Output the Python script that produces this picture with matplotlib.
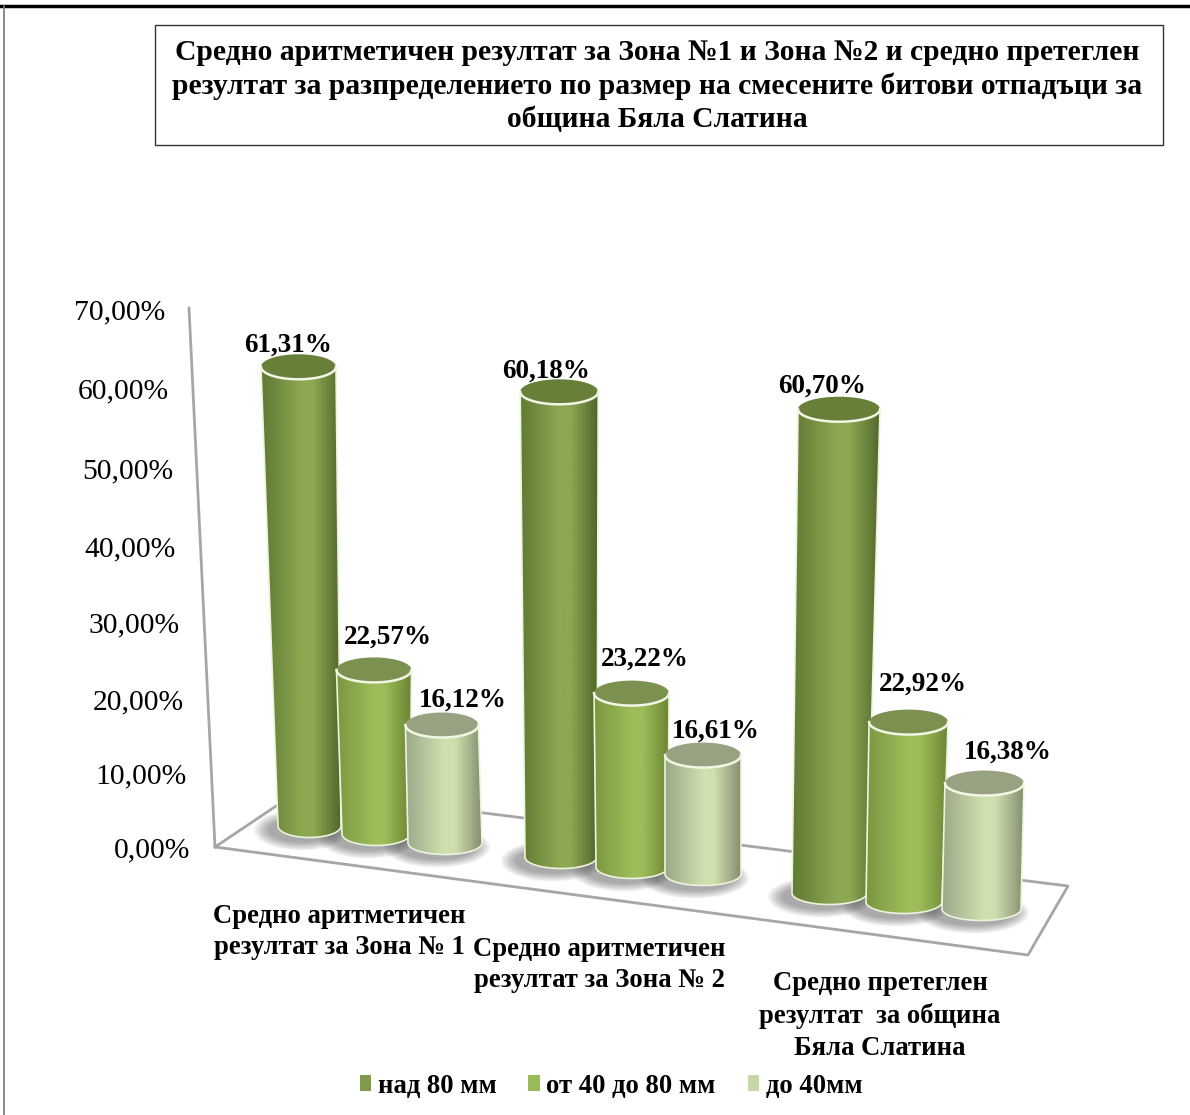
import numpy as np
import matplotlib.pyplot as plt
from matplotlib.colors import LinearSegmentedColormap
from matplotlib.patches import Ellipse, PathPatch, Patch, Rectangle
from matplotlib.path import Path

plt.rcParams['font.family'] = ['Liberation Serif', 'DejaVu Serif']

title = ("Средно аритметичен резултат за Зона №1 и Зона №2 и средно претеглен\n"
         "резултат за разпределението по размер на смесените битови отпадъци за\n"
         "община Бяла Слатина")
categories = ["Средно аритметичен\nрезултат за Зона № 1",
              "Средно аритметичен\nрезултат за Зона № 2",
              "Средно претеглен\nрезултат  за община\nБяла Слатина"]
series_names = ["над 80 мм", "от 40 до 80 мм", "до 40мм"]
over_80 = [61.31, 60.18, 60.70]
from_40_to_80 = [22.57, 23.22, 22.92]
under_40 = [16.12, 16.61, 16.38]
tick_values = [0, 10, 20, 30, 40, 50, 60, 70]

# ---- the fake 3d layout, in pixels of the picture ----
base_cx = [[309.5, 376, 445], [561, 632, 703], [829.5, 904, 981.5]]
base_y = [[826, 834, 843], [857, 867, 874], [893, 902, 909]]
px_per_pct = [[7.49, 7.27, 7.32], [7.73, 7.49, 7.16], [7.97, 7.85, 7.69]]
lean_per_pct = [[-0.18, -0.09, -0.19], [-0.03, -0.02, 0.0], [0.157, 0.2, 0.18]]
base_half = [[31.5, 34, 37], [36, 36, 38], [37.5, 38, 39.5]]
top_half = [[37.5, 37.5, 36.5], [39, 37.5, 38], [41, 39.5, 39.5]]
tick_y = [850, 776, 702, 625, 549, 471, 391, 312]
tick_right = [190, 187, 184, 180, 176, 173, 169, 165]
label_pos = [[(288, 345), (388, 637), (463, 700)],
             [(546, 371), (645, 659), (716, 731)],
             [(822, 386), (923, 684), (1008, 752)]]
category_pos = [(339, 932), (599, 965), (880, 1016)]

body_edge_l = ["#5F7A33", "#7A9740", "#9AA888"]
body_mid = ["#8CA852", "#9DBD5A", "#CFE0AE"]
body_edge_r = ["#4E6629", "#6B8534", "#848F70"]
cap_colors = ["#677F39", "#7C9150", "#98A283"]
legend_colors = ["#7F9B48", "#9BBB59", "#C6D8A8"]
line_grey = "#A6A6A6"

fig = plt.figure(figsize=(11.9, 11.15), dpi=100)
ax = fig.add_axes([0, 0, 1, 1])
ax.set_xlim(0, 1190)
ax.set_ylim(1115, 0)
ax.axis("off")

# page frame
ax.plot([0, 1190], [6, 6], color="black", lw=2.5)
ax.plot([3.5, 3.5], [6, 1115], color="#777777", lw=1.2)

# title box
ax.add_patch(Rectangle((155, 25), 1008, 120, fc="white", ec="#333333", lw=1))
ax.text(657, 86, title, ha="center", va="center", fontsize=21.3, fontweight="bold", linespacing=1.3)

# walls and floor
ax.plot([189, 215, 1028, 1068, 300, 215], [308, 847, 955, 886, 790, 847], color=line_grey, lw=2, zorder=1)


def cylinder(g, s, value):
    cx0, y0 = base_cx[g][s], base_y[g][s]
    y1 = y0 - value * px_per_pct[g][s]
    cx1 = cx0 + value * lean_per_pct[g][s]
    h0, h1 = base_half[g][s], top_half[g][s]
    ry0, ry1 = 11.5, 12.5

    # soft shadow on the floor
    for k in range(10):
        ax.add_patch(Ellipse((cx0 - 8, y0 + 4), 2 * (h0 + 16 - 1.6 * k), 2 * (ry0 + 9 - 0.9 * k),
                             fc="#3A3A3A", ec="none", alpha=0.05, zorder=2 + g * 3))

    t = np.linspace(0, np.pi, 40)
    bottom = np.column_stack([cx0 + h0 * np.cos(t), y0 + ry0 * np.sin(t)])
    body_pts = np.vstack([[[cx1 + h1, y1]], bottom, [[cx1 - h1, y1]], [[cx1 + h1, y1]]])
    z = 3 + g * 3 + s * 0.5
    clip = PathPatch(Path(body_pts), fc="none", ec="none", zorder=z)
    ax.add_patch(clip)

    cmap = LinearSegmentedColormap.from_list("c", [(0, body_edge_l[s]), (0.5, body_mid[s]),
                                                   (0.65, body_mid[s]), (1, body_edge_r[s])])
    left = min(cx0 - h0, cx1 - h1)
    right = max(cx0 + h0, cx1 + h1)
    im = ax.imshow(np.linspace(0, 1, 128).reshape(1, -1), cmap=cmap, aspect="auto",
                   extent=(left, right, y0 + ry0, y1), zorder=z)
    im.set_clip_path(clip)

    # light outline down the sides and round the bottom
    ax.plot(body_pts[:-1, 0], body_pts[:-1, 1], color="#EEF3DC", lw=1.2, zorder=z + 0.1)

    # cap
    ax.add_patch(Ellipse((cx1, y1), 2 * h1, 2 * ry1, fc=cap_colors[s], ec="none", zorder=z + 0.2))
    t = np.linspace(0, np.pi, 40)
    ax.plot(cx1 + h1 * np.cos(t), y1 + ry1 * np.sin(t), color="#F2F6E4", lw=1.8, zorder=z + 0.3)


all_series = [over_80, from_40_to_80, under_40]
for g in range(3):
    for s in range(3):
        cylinder(g, s, all_series[s][g])

ax.set_xlim(0, 1190)
ax.set_ylim(1115, 0)

# value labels on top of everything
for g in range(3):
    for s in range(3):
        value = all_series[s][g]
        ax.text(label_pos[g][s][0], label_pos[g][s][1], f"{value:.2f}%".replace(".", ","),
                ha="center", va="center", fontsize=19.5, fontweight="bold", zorder=30)

# y axis labels
for v, y, x in zip(tick_values, tick_y, tick_right):
    ax.text(x, y, f"{v:.2f}%".replace(".", ","), ha="right", va="center", fontsize=21.3)

# category labels
for name, (x, y) in zip(categories, category_pos):
    ax.text(x, y, name, ha="center", va="center", fontsize=19.2, fontweight="bold", linespacing=1.36, zorder=30)

handles = [Patch(fc=c, ec="none") for c in legend_colors]
ax.legend(handles, series_names, loc="center", bbox_to_anchor=(611 / 1190, 1 - 1086 / 1115), ncol=3, frameon=False,
          prop={"size": 19.2, "weight": "bold"}, handlelength=0.42, handleheight=0.5, handletextpad=0.25,
          columnspacing=1.2, bbox_transform=fig.transFigure)

fig.savefig("out.png", dpi=100)
